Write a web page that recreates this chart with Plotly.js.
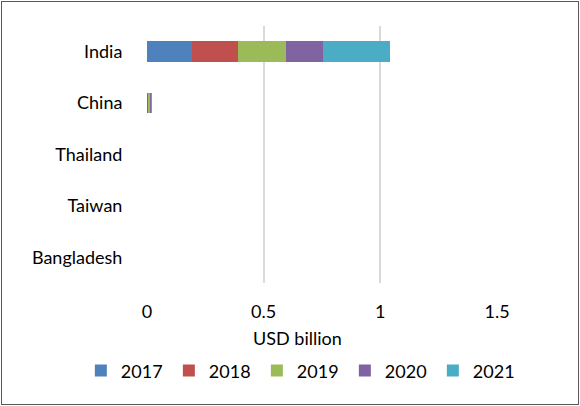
<!DOCTYPE html>
<html>
<head>
<meta charset="utf-8">
<script src="https://cdn.plot.ly/plotly-3.0.1.min.js"></script>
<style>
html,body{margin:0;padding:0;background:#fff;}
#frame{position:absolute;left:1px;top:1px;width:576px;height:402px;border:1px solid #595959;}
#chart{position:absolute;left:-1px;top:-1px;width:580px;height:406px;}
</style>
</head>
<body>
<div id="frame"><div id="chart"></div></div>
<script>
var countries = ["India", "China", "Thailand", "Taiwan", "Bangladesh"];
var years = ["2017", "2018", "2019", "2020", "2021"];
var colors = ["#4F81BD", "#C0504D", "#9BBB59", "#8064A2", "#4BACC6"];
var v2017 = [0.191, 0.001, 0.0004, 0.0003, 0.0003];
var v2018 = [0.201, 0.004, 0.0004, 0.0003, 0.0003];
var v2019 = [0.203, 0.006, 0.0004, 0.0003, 0.0003];
var v2020 = [0.159, 0.004, 0.0004, 0.0003, 0.0003];
var v2021 = [0.286, 0.008, 0.0004, 0.0003, 0.0003];
var series = [v2017, v2018, v2019, v2020, v2021];
var xTicks = [0, 0.5, 1, 1.5];
var xTickText = ["0", "0.5", "1", "1.5"];
var xTitle = "USD billion";

var font = "Lato, 'Open Sans', sans-serif";
var fs = 18;
var traces = series.map(function (vals, i) {
  return {
    type: "bar",
    orientation: "h",
    name: years[i],
    y: countries,
    x: vals,
    marker: {color: colors[i], line: {width: 0}},
    hoverinfo: "x+y+name"
  };
});

var layout = {
  width: 580,
  height: 406,
  barmode: "stack",
  bargap: 0.6,
  paper_bgcolor: "rgba(0,0,0,0)",
  plot_bgcolor: "#fff",
  margin: {l: 146, r: 84, t: 25, b: 124},
  font: {family: font, size: fs, color: "#000"},
  showlegend: true,
  legend: {
    orientation: "h",
    x: -0.189,
    xanchor: "left",
    y: -0.342,
    yanchor: "middle",
    traceorder: "normal",
    font: {family: font, size: fs, color: "#000"},
    entrywidth: 43,
    entrywidthmode: "pixels",
    itemclick: false
  },
  xaxis: {
    range: [0, 1.5],
    tickvals: xTicks,
    ticktext: xTickText,
    showgrid: true,
    gridcolor: "#d9d9d9",
    gridwidth: 2,
    zeroline: false,
    showline: false,
    ticks: "outside",
    ticklen: 12,
    tickcolor: "rgba(0,0,0,0)",
    tickfont: {family: font, size: fs, color: "#000"},
    fixedrange: true
  },
  yaxis: {
    categoryorder: "array",
    categoryarray: countries,
    autorange: "reversed",
    showgrid: false,
    zeroline: false,
    showline: false,
    ticks: "outside",
    ticklen: 20,
    tickcolor: "rgba(0,0,0,0)",
    tickfont: {family: font, size: fs, color: "#000"},
    fixedrange: true
  },
  annotations: [{
    text: xTitle,
    xref: "paper", yref: "paper",
    x: 0.431, y: -0.215,
    xanchor: "center", yanchor: "middle",
    showarrow: false,
    font: {family: font, size: fs, color: "#000"}
  }]
};

Plotly.newPlot("chart", traces, layout, {displayModeBar: false, staticPlot: true});
</script>
</body>
</html>
